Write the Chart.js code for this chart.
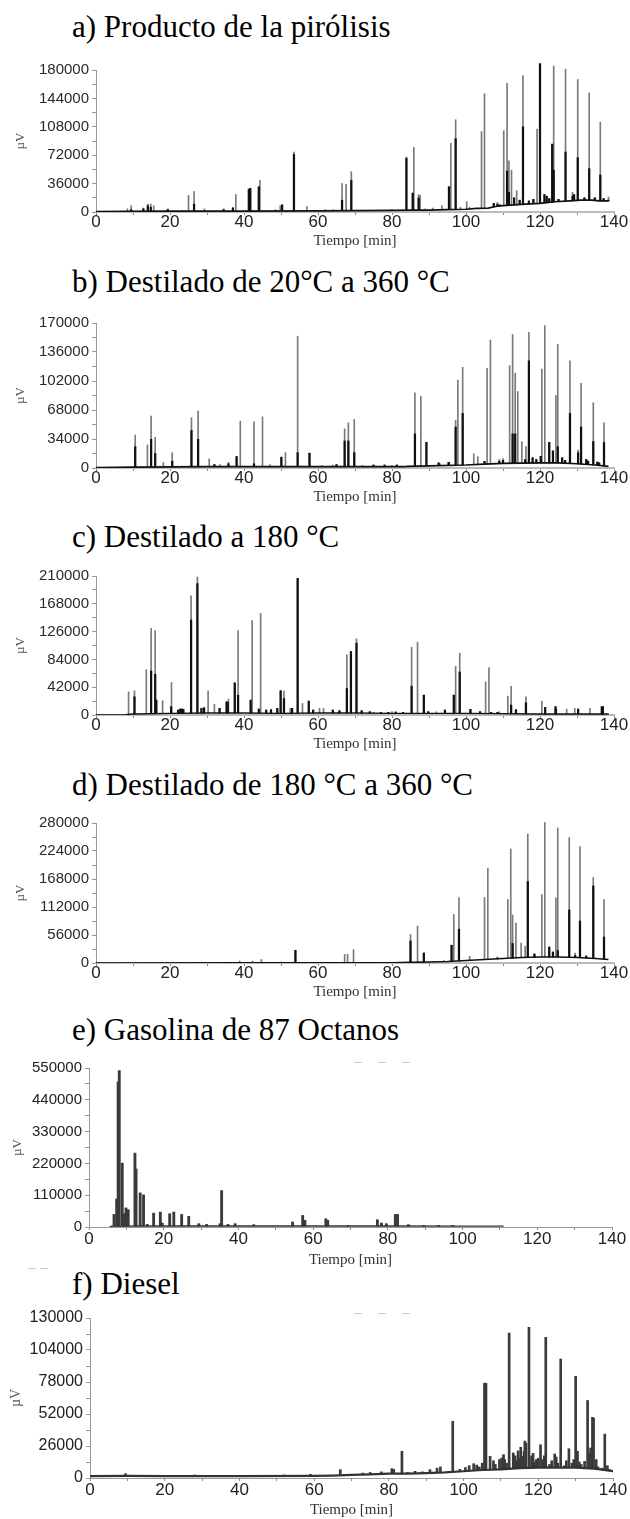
<!DOCTYPE html>
<html>
<head>
<meta charset="utf-8">
<script src="https://cdn.jsdelivr.net/npm/chart.js@4.4.0/dist/chart.umd.min.js"></script>
<style>
  body { margin: 0; width: 630px; height: 1519px; background: #fff; position: relative; overflow: hidden; }
  .title { position: absolute; left: 72px; font-family: "Liberation Serif", "Times New Roman", serif; font-size: 31px; line-height: 1; color: #000; white-space: nowrap; }
  canvas { position: absolute; left: 0; }
  .dash { position: absolute; height: 1px; background: #c8c8c8; }
</style>
</head>
<body>
<script>
// ---- a) Producto de la pirolisis ----
const aTimes = [8.5, 9.5, 12.8, 14.0, 14.8, 15.6, 19.4, 25.0, 26.5, 29.3, 34.5, 37.0, 37.8, 41.3, 41.7, 44.0, 44.3, 48.5, 49.8, 50.3,
  53.5, 57.0, 62.0, 64.0, 66.5, 67.6, 69.0, 76.0, 80.0, 83.9, 85.6, 85.9, 87.2, 87.6, 89.0, 91.0, 93.5, 95.4, 95.9, 97.2,
  98.5, 100.2, 101.0, 102.5, 104.2, 105.0, 107.5, 108.5, 109.2, 110.2, 111.1, 111.6, 112.3, 113.0, 113.7, 114.5, 115.4, 117.0, 118.2, 119.2,
  120.0, 121.2, 121.8, 122.5, 123.3, 123.7, 125.0, 126.9, 128.8, 129.2, 130.2, 132.0, 133.3, 134.8, 136.3, 137.2, 138.5];
const aPeaks = [4000, 8000, 5000, 10000, 10000, 8000, 4000, 21000, 26000, 4000, 4000, 6000, 22000, 29000, 30000, 32000, 40000, 3000, 8000, 9000,
  76000, 7000, 3000, 3000, 36000, 35000, 51000, 2000, 3000, 70000, 24000, 82000, 22000, 21000, 4000, 5000, 8000, 32000, 87000, 117000,
  6000, 13000, 6000, 5000, 102000, 150000, 11000, 12000, 9000, 103000, 163000, 65000, 53000, 18000, 27000, 15000, 173000, 14000, 16000, 105000,
  188000, 22000, 20000, 17000, 86000, 185000, 16000, 181000, 25000, 22000, 168000, 18000, 151000, 18000, 114000, 17000, 19000];
const aCores = [0, 3000, 4000, 8000, 6000, 0, 3000, 0, 10000, 0, 3000, 5000, 0, 29000, 30000, 32000, 0, 0, 0, 9000,
  73000, 0, 0, 0, 15000, 0, 40000, 0, 0, 68000, 24000, 0, 18000, 0, 0, 0, 0, 32000, 0, 93000,
  0, 0, 0, 0, 0, 0, 11000, 10000, 9000, 0, 52000, 25000, 0, 18000, 0, 15000, 108000, 14000, 16000, 0,
  188000, 22000, 20000, 17000, 86000, 53000, 16000, 76000, 20000, 22000, 69000, 18000, 55000, 18000, 47000, 17000, 15000];
const aBaseT = [0, 8, 20, 40, 60, 80, 86, 90, 95, 100, 103, 106, 108, 110, 113, 116, 120, 124, 128, 131, 134, 136, 138.5];
const aBaseV = [500, 800, 1000, 1200, 1500, 2000, 2500, 2500, 3000, 3500, 4500, 5000, 7000, 8000, 9000, 10000, 11000, 13000, 14000, 15000, 15000, 14000, 14000];

// ---- b) Destilado de 20 a 360 ----
const bTimes = [10.6, 13.9, 14.9, 16.0, 18.2, 20.6, 25.8, 27.6, 30.6, 33.5, 35.8, 38.0, 39.0, 42.7, 45.0, 47.0, 50.1, 51.2, 54.5, 57.7,
  61.0, 64.0, 67.2, 68.2, 69.8, 72.0, 80.0, 86.2, 87.8, 89.3, 93.0, 95.5, 97.2, 97.8, 99.1, 102.1, 103.2, 105.7, 106.6, 109.0,
  110.0, 111.8, 112.6, 113.3, 114.0, 115.1, 116.2, 117.0, 118.0, 120.5, 121.3, 122.5, 123.5, 124.3, 124.8, 126.0, 128.1, 130.3, 131.1, 132.5,
  134.4, 136.0, 137.3,
  32.0, 65.0, 75.0, 78.0, 81.3, 92.6, 95.3, 105.0, 116.0, 119.0, 120.2, 126.8, 133.0, 135.5];
const bPeaks = [38600, 27000, 61000, 36000, 6500, 18000, 59000, 67000, 10800, 4000, 6500, 13500, 55000, 54000, 60000, 4000, 12700, 18000, 154500, 17400,
  3000, 3500, 46000, 53000, 57000, 3000, 3000, 88000, 84000, 30000, 5000, 7000, 56000, 103000, 118000, 16600, 13500, 117000, 150000, 10000,
  11000, 120000, 156500, 111000, 89600, 31000, 25000, 159000, 12000, 116000, 167000, 30000, 20000, 85000, 145000, 12000, 125600, 21000, 99300, 10000,
  76500, 6000, 53000,
  4000, 4000, 3500, 3500, 3500, 6000, 6600, 7800, 9800, 10000, 13700, 9000, 8000, 7000];
const bCores = [25000, 0, 33600, 17000, 0, 8000, 44000, 33600, 0, 0, 5000, 13500, 0, 5000, 0, 0, 12700, 0, 18000, 17400,
  0, 0, 31700, 31700, 18000, 0, 0, 40000, 0, 30000, 0, 0, 48000, 0, 64000, 0, 0, 0, 0, 8000,
  9000, 0, 40000, 40000, 0, 0, 0, 125600, 12000, 0, 0, 30000, 20000, 0, 25000, 12000, 64000, 18000, 48000, 10000,
  31000, 6000, 30000,
  4000, 4000, 3500, 3500, 3500, 6000, 6600, 7800, 9800, 10000, 13700, 9000, 8000, 7000];
const bBaseT = [0, 10, 30, 60, 80, 83.5, 84, 90, 100, 105, 110, 115, 120, 125, 130, 135, 138.5];
const bBaseV = [500, 1000, 1500, 1500, 1500, 1500, 2000, 2500, 3500, 4500, 5500, 5800, 6000, 6000, 5000, 3500, 2000];

// ---- c) Destilado a 180 ----
const cTimes = [8.8, 10.4, 13.6, 14.9, 16.0, 16.3, 18.0, 20.4, 22.2, 23.6, 25.7, 27.4, 28.5, 29.2, 30.3, 32.0, 35.3, 35.8, 37.5, 38.4,
  41.8, 42.2, 44.5, 46.0, 49.9, 50.8, 52.5, 54.5, 55.8, 57.5, 60.4, 61.5, 64.0, 67.8, 68.9, 70.4, 71.8, 75.0, 80.0, 85.3,
  86.9, 88.6, 92.0, 96.7, 97.2, 98.3, 101.2, 105.3, 106.2, 109.0, 111.3, 112.2, 113.5, 116.2, 120.5, 121.4, 124.3, 127.2, 129.4, 130.3,
  133.5, 136.7,
  20.3, 22.8, 23.2, 33.4, 35.6, 44.0, 47.3, 49.0, 53.0, 58.7, 65.8, 74.0, 77.0, 79.0, 81.0, 83.0, 89.8, 94.3, 103.8, 106.8, 108.5, 124.2, 137.0];
const cPeaks = [35000, 36500, 68500, 131000, 127500, 22500, 21500, 49000, 7500, 8500, 180000, 208500, 10000, 11000, 36500, 16000, 20000, 24000, 48500, 127500,
  22500, 142500, 153500, 7500, 37500, 36000, 10000, 206500, 17500, 21000, 10000, 10000, 7500, 91000, 96000, 115000, 6500, 4000, 5000, 102500,
  110000, 30000, 5000, 30000, 73500, 93500, 8500, 50000, 71500, 5000, 28500, 43500, 8000, 27500, 21000, 11500, 8500, 9000, 10000, 9000,
  10000, 12500,
  12600, 9000, 9000, 10000, 19000, 9000, 8000, 10000, 10000, 7500, 6500, 5000, 4000, 4000, 4500, 4000, 5000, 7500, 5000, 4000, 4000, 12600, 12600];
const cCores = [0, 27500, 0, 66500, 61500, 22500, 0, 0, 7500, 8500, 143500, 198500, 10000, 11000, 0, 0, 20000, 0, 48500, 30000,
  22500, 0, 0, 7500, 36500, 25000, 0, 206500, 0, 21000, 0, 0, 7500, 40000, 96000, 108500, 6500, 0, 0, 43500,
  0, 30000, 0, 30000, 0, 65000, 8500, 0, 0, 0, 0, 15000, 8000, 18500, 0, 11500, 8500, 0, 0, 9000,
  0, 12500,
  12600, 9000, 9000, 10000, 19000, 9000, 8000, 10000, 10000, 7500, 6500, 5000, 4000, 4000, 4500, 4000, 5000, 7500, 5000, 4000, 4000, 12600, 12600];
const cBaseT = [0, 8, 10, 20, 30, 40, 50, 60, 70, 80, 90, 100, 110, 120, 130, 138.6];
const cBaseV = [0, 500, 1500, 2500, 3000, 3000, 2500, 3000, 3000, 2500, 2500, 2500, 2000, 1500, 1500, 1500];

// ---- d) Destilado de 180 a 360 ----
const dTimes = [38.8, 42.3, 44.7, 50.1, 53.9, 67.2, 68.0, 69.6, 85.0, 86.9, 88.6, 94.0, 96.1, 96.7, 98.1, 101.0, 105.0, 105.9, 108.5, 111.3,
  112.1, 112.6, 113.5, 114.9, 116.0, 116.7, 118.5, 120.5, 121.3, 122.5, 123.5, 124.3, 124.8, 127.9, 129.5, 130.8, 132.5, 134.4, 137.3];
const dPeaks = [4000, 4000, 7000, 2000, 25500, 17400, 17400, 26800, 57000, 74000, 20000, 5000, 35500, 97000, 131000, 13400, 131000, 189500, 12000, 127000,
  228000, 96000, 80000, 40000, 33500, 258000, 18000, 137000, 281000, 32000, 22000, 130500, 270000, 251000, 20000, 233000, 14000, 171000, 127000];
const dCores = [0, 0, 0, 0, 25500, 0, 0, 0, 44000, 0, 20000, 0, 35500, 0, 67500, 0, 0, 0, 10000, 0,
  0, 39000, 0, 0, 0, 163000, 18000, 0, 0, 32000, 22000, 0, 25000, 106000, 15000, 84000, 14000, 154000, 52000];
const dBaseT = [0, 40, 80, 85, 90, 95, 100, 105, 110, 115, 120, 125, 130, 135, 138.5];
const dBaseV = [0, 300, 500, 1500, 2000, 3000, 5000, 7000, 9000, 11000, 12000, 12000, 11000, 9000, 7000];

// ---- e) Gasolina de 87 Octanos ----
const eTimes = [6.7, 7.4, 7.8, 8.1, 8.9, 9.4, 9.9, 10.5, 12.3, 12.6, 13.7, 14.6, 15.6, 17.3, 19.1, 19.6, 21.6, 22.7, 24.8, 26.7,
  29.4, 31.5, 35.1, 35.5, 37.2, 39.1, 44.1, 54.5, 57.2, 57.8, 63.4, 63.9, 69.3, 77.2, 78.3, 79.6, 82.0, 82.6, 85.5, 89.6,
  93.6, 97.4];
const ePeaks = [43500, 97000, 502000, 541000, 221000, 46000, 66000, 60000, 255500, 200500, 118000, 111000, 9000, 48000, 51500, 13700, 46000, 51500, 43500, 36700,
  11500, 9000, 11500, 126000, 9000, 11500, 8000, 17200, 40000, 23000, 28600, 23000, 5700, 25000, 13700, 11500, 43500, 43500, 8000, 5700,
  5700, 5700];
const eBaseT = [5.5, 6, 20, 40, 60, 80, 100, 111];
const eBaseV = [0, 3000, 3500, 3500, 3500, 3500, 3000, 3000];

// ---- f) Diesel ----
const fTimes = [9.5, 28, 42, 52, 59, 67, 73, 75, 78, 80.8, 81.3, 83.5, 85, 87, 89, 91, 92.9, 93.8, 96, 97.1,
  99, 100.5, 101.5, 102.7, 103.5, 104.2, 105.6, 106, 107.1, 108.5, 109.6, 110.2, 110.7, 111.5, 112.2, 113.3, 114.2, 115, 115.6, 116.2,
  116.7, 117.5, 118.2, 119, 120, 120.6, 121.2, 122, 123, 124.4, 125.2, 126, 127, 128.2, 129, 130, 130.5, 131.5, 132.4, 133.2,
  134, 134.5, 134.8, 136, 137, 137.8, 139,
  105, 108, 111, 113.8, 114.6, 115.3, 116.4, 118.6, 119.5, 121.6, 123.6, 124.8, 127.5, 129.5, 131, 133.6, 135.5, 138.5];
const fPeaks = [3500, 2500, 2000, 2500, 3000, 6800, 4000, 4500, 5000, 7600, 7000, 21700, 4500, 5400, 5000, 6800, 8000, 9000, 5400, 46000,
  7000, 8500, 10000, 11600, 10500, 9000, 77000, 77000, 17600, 11000, 15000, 16200, 19000, 12000, 117800, 20300, 14000, 16000, 17600, 21700,
  28400, 122400, 18000, 13000, 16000, 27000, 15000, 114300, 11000, 19500, 12000, 96700, 10000, 23800, 12000, 82600, 21700, 11000, 13500, 63000,
  24400, 49300, 48700, 9000, 8000, 35700, 7000,
  12000, 14000, 15000, 18000, 22000, 25000, 30000, 20000, 15000, 18000, 14000, 17000, 14000, 15000, 13000, 20000, 15000, 10000];
const fBaseT = [0, 10, 20, 40, 60, 65, 70, 75, 80, 85, 90, 95, 100, 105, 110, 115, 120, 125, 130, 135, 140];
const fBaseV = [1500, 1800, 1500, 1500, 1800, 2000, 2500, 3000, 3500, 3500, 4000, 4500, 5500, 6500, 7000, 8000, 8500, 8500, 8500, 7500, 5500];

const xTickFont = { family: '"Liberation Sans Narrow", "Arial Narrow", "Liberation Sans", Arial, sans-serif', size: 17, lineHeight: 1 };

// level of the drawn baseline at time t, so a peak starts on the trace
function baseAt(t, T, V) {
  if (t <= T[0]) return V[0];
  for (var i = 1; i < T.length; i++) {
    if (t <= T[i]) return V[i - 1] + (V[i] - V[i - 1]) * (t - T[i - 1]) / (T[i] - T[i - 1]);
  }
  return 0;
}

function addTitle(text, baseline) {
  var d = document.createElement('div');
  d.className = 'title';
  d.textContent = text;
  d.style.top = (baseline - 26) + 'px';
  document.body.appendChild(d);
}

function addDash(x, y, w) {
  var d = document.createElement('div');
  d.className = 'dash';
  d.style.left = x + 'px';
  d.style.top = y + 'px';
  d.style.width = w + 'px';
  document.body.appendChild(d);
}

function makePanel(p) {
  var canvasTop = p.ytop - 24;
  var canvasH = p.y0 + p.tiempoGap + 9 - canvasTop;
  var canvas = document.createElement('canvas');
  canvas.width = 630;
  canvas.height = canvasH;
  canvas.style.top = canvasTop + 'px';
  document.body.appendChild(canvas);

  function spikes(vals) {
    var out = [];
    p.times.forEach(function (t, i) {
      var b = baseAt(t, p.baseT, p.baseV);
      if (vals[i] > b) out.push({ x: t, y: [b, vals[i]] });
    });
    return out;
  }

  var step = p.max / 5;
  var datasets = [{
    type: 'line',
    data: p.baseT.map(function (t, i) { return { x: t, y: p.baseV[i] }; }),
    borderColor: p.lineColor, borderWidth: p.lineWidth, pointRadius: 0, tension: 0, order: 0
  }, {
    type: 'bar', data: spikes(p.peaks),
    backgroundColor: p.peakColor, barThickness: p.peakWidth, grouped: false, clip: false, order: 2
  }];
  if (p.cores) {
    datasets.push({
      type: 'bar', data: spikes(p.cores),
      backgroundColor: '#111', barThickness: 1.6, grouped: false, clip: false, order: 1
    });
  }

  new Chart(canvas, {
    type: 'bar',
    data: { datasets: datasets },
    options: {
      responsive: false,
      animation: false,
      devicePixelRatio: 1,
      layout: { padding: { top: 24, left: 6, right: 630 - p.rightX, bottom: 0 } },
      plugins: { legend: { display: false }, tooltip: { enabled: false } },
      scales: {
        x: {
          type: 'linear', min: 0, max: 140, offset: false,
          afterFit: function (s) { s.height = canvasH - 24 - (p.y0 - p.ytop); },
          ticks: {
            stepSize: 10, autoSkip: false, maxRotation: 0, minRotation: 0,
            padding: p.xPad, color: '#222', font: xTickFont,
            callback: function (v) { return v % 20 === 0 ? String(v) : ''; }
          },
          grid: { offset: false, drawOnChartArea: false, drawTicks: true, tickLength: 3, color: '#888' },
          border: { display: true, color: p.axisColor, width: p.axisWidth },
          title: {
            display: true, text: 'Tiempo [min]', color: '#333',
            font: { family: '"Liberation Serif", "Times New Roman", serif', size: 15 },
            padding: { top: 0, bottom: 0 }
          }
        },
        y: {
          type: 'linear', min: 0, max: p.max,
          afterFit: function (s) { s.width = p.axisX - 6; },
          afterBuildTicks: function (s) {
            var t = [];
            for (var v = 0; v <= p.max; v += step / 2) t.push({ value: v });
            s.ticks = t;
          },
          ticks: {
            autoSkip: false, padding: 3, color: p.yLabelColor,
            font: { family: '"Liberation Sans", Arial, sans-serif', size: p.yFont },
            callback: function (v) { return v % step === 0 ? String(v) : ''; }
          },
          grid: { drawOnChartArea: false, drawTicks: true, tickLength: 4, color: '#999' },
          border: { display: true, color: '#999', width: 1 },
          title: {
            display: true, text: 'µV', color: '#555',
            font: { family: '"Liberation Serif", "Times New Roman", serif', size: p.muFont },
            padding: { top: p.muPad, bottom: 0 }
          }
        }
      }
    }
  });
}

addTitle('a) Producto de la pirólisis', 37);
addTitle('b) Destilado de 20°C a 360 °C', 292);
addTitle('c) Destilado a 180 °C', 547);
addTitle('d) Destilado de 180 °C a 360 °C', 795);
addTitle('e) Gasolina de 87 Octanos', 1040);
addTitle('f) Diesel', 1294);

var common = { axisX: 96, rightX: 614, tiempoGap: 29, xPad: -1.5, axisColor: '#bbb', axisWidth: 2,
  lineColor: '#111', lineWidth: 1.7, peakColor: '#7a7a7a', peakWidth: 1, yLabelColor: '#2a2a2a', yFont: 15, muFont: 13, muPad: 7 };

makePanel(Object.assign({}, common, { ytop: 70, y0: 212, max: 180000, times: aTimes, peaks: aPeaks, cores: aCores, baseT: aBaseT, baseV: aBaseV }));
makePanel(Object.assign({}, common, { ytop: 323, y0: 468, max: 170000, times: bTimes, peaks: bPeaks, cores: bCores, baseT: bBaseT, baseV: bBaseV }));
makePanel(Object.assign({}, common, { ytop: 576, y0: 715, max: 210000, lineWidth: 1.3, times: cTimes, peaks: cPeaks, cores: cCores, baseT: cBaseT, baseV: cBaseV }));
makePanel(Object.assign({}, common, { ytop: 823, y0: 963, max: 280000, times: dTimes, peaks: dPeaks, cores: dCores, baseT: dBaseT, baseV: dBaseV }));
makePanel(Object.assign({}, common, { axisX: 89, rightX: 612, ytop: 1068, y0: 1227, max: 550000, tiempoGap: 33, xPad: 1,
  axisColor: '#999', axisWidth: 1, peakColor: '#3a3a3a', peakWidth: 2.2, lineColor: '#333', lineWidth: 1.3, yLabelColor: '#222', yFont: 15, muPad: 4,
  times: eTimes, peaks: ePeaks, baseT: eBaseT, baseV: eBaseV }));
makePanel(Object.assign({}, common, { axisX: 90, rightX: 613, ytop: 1318, y0: 1478, max: 130000, tiempoGap: 32, xPad: 1,
  axisColor: '#999', axisWidth: 1, peakColor: '#3a3a3a', peakWidth: 2, lineColor: '#333', lineWidth: 2.2, yLabelColor: '#222', yFont: 16, muFont: 14, muPad: 2,
  times: fTimes, peaks: fPeaks, baseT: fBaseT, baseV: fBaseV }));

// faint scanning marks in the source figure
addDash(354, 1062, 8); addDash(378, 1062, 8); addDash(402, 1062, 8);
addDash(354, 1313, 8); addDash(378, 1313, 8); addDash(402, 1313, 8);
addDash(28, 1268, 8); addDash(40, 1268, 8);
</script>
</body>
</html>
